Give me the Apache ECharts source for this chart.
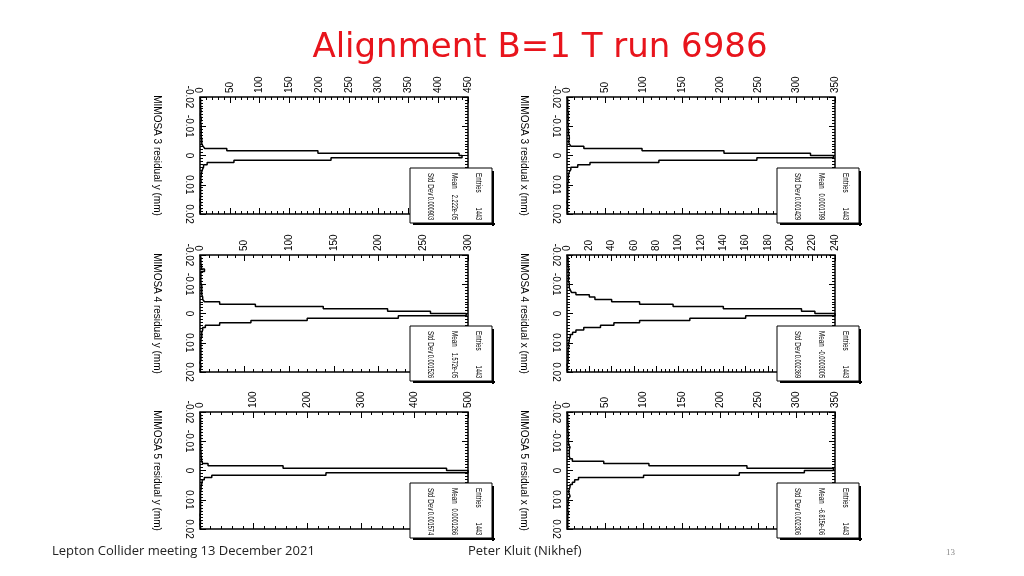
<!DOCTYPE html>
<html><head><meta charset="utf-8">
<script src="https://cdn.jsdelivr.net/npm/echarts@6/dist/echarts.min.js"></script>
<style>body{margin:0;background:#fff}#c{width:1024px;height:576px}</style>
</head><body><div id="c"></div>
<script>
// 50 bins from -0.02 to 0.02 (width 0.0008)
const binMin = -0.02, binWidth = 0.0008;
const titles = ["MIMOSA 3 residual y (mm)","MIMOSA 3 residual x (mm)","MIMOSA 4 residual y (mm)","MIMOSA 4 residual x (mm)","MIMOSA 5 residual y (mm)","MIMOSA 5 residual x (mm)"];
const countMax = [450,350,300,240,500,350];
const countStep = [50,50,50,20,100,50];
const residualTicks = ["-0.02","-0.01","0","0.01","0.02"];
const entries = ["1443","1443","1443","1443","1443","1443"];
const means = ["2.222e-05","0.0001799","1.572e-05","-0.0003005","0.0001266","-6.815e-06"];
const stdDevs = ["0.000903","0.001429","0.001526","0.002369","0.001574","0.002306"];
const h_y3 = [1,1,1,1,1,2,1,1,2,2, 1,2,2,2,2,2,2,3,3,3, 5,8,45,198,435,440,220,57,12,6, 4,3,2,2,1,2,1,1,1,1, 1,1,1,0,1,1,0,1,0,1];
const h_x3 = [1,1,1,1,1,1,2,1,2,1, 1,2,1,2,2,2,3,3,2,3, 5,22,98,205,318,348,248,120,30,14, 5,3,2,2,1,2,1,1,1,1, 1,1,1,1,0,1,1,0,1,1];
const h_y4 = [1,1,1,1,2,1,5,1,1,1, 1,1,2,2,2,2,2,3,3,5, 22,62,138,210,258,298,222,120,57,22, 6,3,2,2,2,1,1,1,1,1, 1,1,1,1,1,0,1,1,0,1];
const h_x4 = [1,1,1,1,1,2,1,2,1,2, 1,2,2,2,3,4,8,20,25,40, 65,95,140,210,222,240,160,110,65,42, 30,15,8,5,3,2,2,1,2,1, 1,1,1,1,1,1,0,1,0,1];
const h_y5 = [1,1,1,1,1,1,1,1,1,1, 1,1,1,1,2,1,2,2,2,3, 3,5,15,155,460,500,235,22,8,4, 3,2,2,1,1,1,1,1,1,1, 1,1,1,0,1,0,1,0,1,1];
const h_x5 = [1,1,1,1,1,2,1,1,2,2, 1,2,2,2,4,3,3,3,3,4, 7,48,107,235,348,310,225,100,15,10, 7,4,3,2,3,4,2,1,2,1, 1,1,2,1,1,1,1,1,1,1];
const hists = [h_y3,h_x3,h_y4,h_x4,h_y5,h_x5];

const grids=[], xAxes=[], yAxes=[], series=[], graphics=[];
const colsLeft=[200,567], rowsTop=[97,255,412], W=268, H=117;
const font="Liberation Sans";
hists.forEach((h,i)=>{
  const col=i%2,row=Math.floor(i/2);
  const L=colsLeft[col], T=rowsTop[row];
  grids.push({left:L,top:T,width:W,height:H,show:true,borderColor:'#000',borderWidth:1.5});
  const xa={gridIndex:i,type:'value',min:0,max:countMax[i],interval:countStep[i],position:'top',
    axisLine:{show:false,onZero:false},axisTick:{inside:true,length:6,lineStyle:{color:'#000'}},
    minorTick:{show:true,splitNumber:5,length:3,lineStyle:{color:'#000'}},
    splitLine:{show:false},
    axisLabel:{rotate:-90,color:'#000',fontFamily:font,fontSize:10,margin:4,showMinLabel:true}};
  xAxes.push(xa);
  xAxes.push(Object.assign({},xa,{position:'bottom',axisLabel:{show:false}}));
  const ya={gridIndex:i,type:'value',min:-0.02,max:0.02,interval:0.01,inverse:true,position:'left',
    axisLine:{show:false,onZero:false},axisTick:{inside:true,length:6,lineStyle:{color:'#000'}},
    minorTick:{show:true,splitNumber:10,length:3,lineStyle:{color:'#000'}},
    splitLine:{show:false},
    name:titles[i],nameLocation:'middle',nameRotate:-90,nameGap:38,
    nameTextStyle:{fontFamily:font,fontSize:10,color:'#000'},
    axisLabel:{rotate:-90,color:'#000',fontFamily:font,fontSize:10,margin:6,
      formatter:v=>residualTicks[Math.round((v+0.02)/0.01)]}};
  yAxes.push(ya);
  yAxes.push(Object.assign({},ya,{position:'right',name:'',axisLabel:{show:false}}));
  const pts=[[0,binMin]];
  h.forEach((v,k)=>{const lo=binMin+k*binWidth;pts.push([v,lo],[v,lo+binWidth]);});
  pts.push([0,binMin+h.length*binWidth]);
  series.push({type:'line',xAxisIndex:2*i,yAxisIndex:2*i,data:pts,showSymbol:false,
    lineStyle:{color:'#000',width:1.5},silent:true,animation:false});
  // stats box
  const bx=L+W-58, by=T+71, bw=82, bh=55;
  graphics.push({type:'rect',shape:{x:bx,y:by,width:bw,height:bh},style:{fill:'#fff',stroke:'#000',lineWidth:1},z:100});
  graphics.push({type:'rect',shape:{x:bx+bw,y:by+3,width:2,height:bh},style:{fill:'#000'},z:100});
  graphics.push({type:'rect',shape:{x:bx+3,y:by+bh,width:bw,height:2},style:{fill:'#000'},z:100});
  const rows=[["Entries",entries[i]],["Mean",means[i]],["Std Dev",stdDevs[i]]];
  rows.forEach((r,j)=>{
    const cx=bx+bw-14-j*24;
    graphics.push({type:'group',x:cx,y:by+5,rotation:-Math.PI/2,z:101,children:[
      {type:'text',scaleX:0.7,z:101,style:{text:r[0],fontFamily:font,fontSize:9,fill:'#000',align:'left',verticalAlign:'middle'}}]});
    graphics.push({type:'group',x:cx,y:by+bh-3,rotation:-Math.PI/2,z:101,children:[
      {type:'text',scaleX:0.62,z:101,style:{text:r[1],fontFamily:font,fontSize:9,fill:'#000',align:'right',verticalAlign:'middle'}}]});
  });
});
graphics.push({type:'text',x:540,y:31,style:{text:'Alignment B=1 T run 6986',fontFamily:'DejaVu Sans',fontSize:34,fill:'#e8141c',align:'center'}});
graphics.push({type:'text',x:52,y:545,style:{text:'Lepton Collider meeting 13 December 2021',fontFamily:'Open Sans',fontSize:13,fill:'#222'}});
graphics.push({type:'text',x:468,y:545,style:{text:'Peter Kluit (Nikhef)',fontFamily:'Open Sans',fontSize:13,fill:'#222'}});
graphics.push({type:'text',x:946,y:548,style:{text:'13',fontFamily:'Liberation Serif',fontSize:9,fill:'#888'}});
const chart=echarts.init(document.getElementById('c'));
chart.setOption({animation:false,grid:grids,xAxis:xAxes,yAxis:yAxes,series:series,graphic:graphics});
</script></body></html>
